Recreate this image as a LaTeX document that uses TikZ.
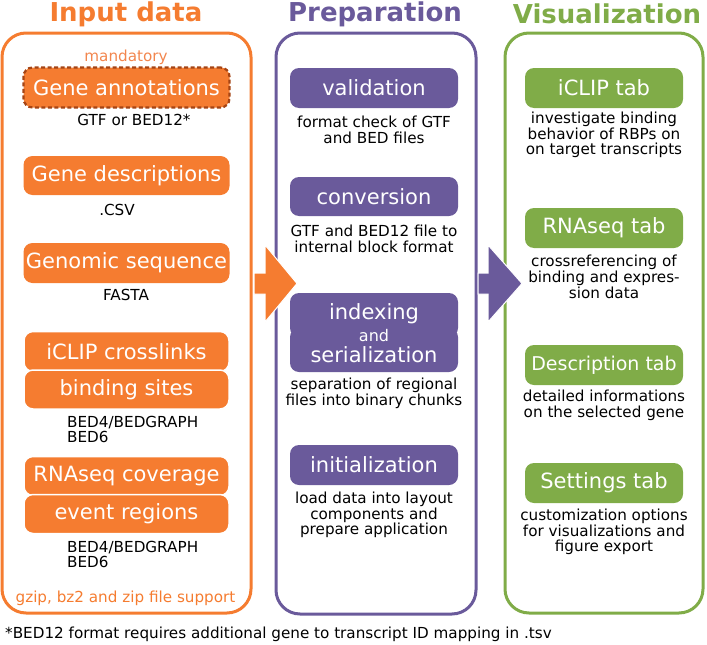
\documentclass[tikz,border=0pt]{standalone}
\usepackage{fontspec}
\setmainfont{DejaVu Sans}
\definecolor{ior}{RGB}{245,124,48}
\definecolor{ipu}{RGB}{106,90,155}
\definecolor{igr}{RGB}{128,172,72}
\definecolor{idash}{RGB}{165,68,20}
\definecolor{imand}{RGB}{242,134,78}
\newcommand{\bigtxt}{\fontsize{21}{22}\selectfont}
\newcommand{\smtxt}{\fontsize{15.2}{15.8}\selectfont}
\newcommand{\ttltxt}{\fontsize{26}{27}\selectfont\bfseries}
\tikzset{
  panel/.style={line width=3pt, rounded corners=24pt},
  boxbase/.style={rounded corners=9pt, text=white, font=\bigtxt, inner sep=0pt},
  obox/.style={boxbase, fill=ior},
  pbox/.style={boxbase, fill=ipu},
  gbox/.style={boxbase, fill=igr},
  note/.style={font=\smtxt, align=center, inner sep=0pt},
  ttl/.style={font=\ttltxt, inner sep=0pt},
}
\begin{document}
\begin{tikzpicture}[x=1pt,y=-1pt]
\useasboundingbox (0,0) rectangle (707,645);
% titles
\node[ttl, text=ior] (t1) at (126,14) {Input data};
\node[ttl, text=ipu] (t2) at (375,14) {Preparation};
\node[ttl, text=igr] (t3) at (607,14) {Visualization};
% panels
\draw[panel, ior] (2,33) rectangle (251,613);
\draw[panel, ipu] (276,33) rectangle (476,614);
\draw[panel, igr] (505,33) rectangle (703,613);
% ---------- input data ----------
\node[font=\smtxt, text=imand, inner sep=0pt] (mand) at (126,57) {mandatory};
\node[obox, minimum width=206pt, minimum height=40pt, draw=idash, line width=2.2pt, dash pattern=on 4pt off 2.5pt] (ga) at (126.5,87.5) {Gene annotations};
\node[note] (gan) at (134,120) {GTF or BED12*};
\node[obox, minimum width=206pt, minimum height=39pt] (gd) at (126.5,175.5) {Gene descriptions};
\node[note] (gdn) at (117,210) {.CSV};
\node[obox, minimum width=206pt, minimum height=40pt] (gs) at (126.5,263) {Genomic sequence};
\node[note] (gsn) at (126,295) {FASTA};
\node[obox, minimum width=205pt, minimum height=40pt, draw=white, line width=1.5pt] (ic) at (126.5,351.5) {iCLIP crosslinks};
\node[obox, minimum width=205pt, minimum height=39pt, draw=white, line width=1.5pt] (bs) at (126.5,389.5) {binding sites};
\node[note, align=left, anchor=west] (bsn) at (67,429.5) {BED4/BEDGRAPH\\BED6};
\node[obox, minimum width=205pt, minimum height=39pt, draw=white, line width=1.5pt] (rc) at (126.5,476) {RNAseq coverage};
\node[obox, minimum width=205pt, minimum height=39pt, draw=white, line width=1.5pt] (er) at (126.5,514) {event regions};
\node[note, align=left, anchor=west] (ern) at (67,554.5) {BED4/BEDGRAPH\\BED6};
\node[font=\smtxt, text=ior, inner sep=0pt] (gz) at (125.5,598) {gzip, bz2 and zip file support};
% ---------- preparation ----------
\node[pbox, minimum width=168pt, minimum height=40pt] (val) at (374,88) {validation};
\node[note] (valn) at (374,130) {format check of GTF\\and BED files};
\node[pbox, minimum width=168pt, minimum height=39pt] (con) at (374,196.5) {conversion};
\node[note] (conn) at (374,238.5) {GTF and BED12 file to\\internal block format};
\node[pbox, minimum width=168pt, minimum height=44pt] (idx) at (374,315) {};
\node[pbox, minimum width=168pt, minimum height=44pt] (ser) at (374,350) {};
\node[font=\bigtxt, text=white, inner sep=0pt] (idxt) at (374,314) {indexing};
\node[font=\fontsize{16}{16}\selectfont, text=white, inner sep=0pt] (andt) at (374,336) {and};
\node[font=\bigtxt, text=white, inner sep=0pt] (sert) at (374,355) {serialization};
\node[note] (sern) at (374,393.5) {separation of regional\\files into binary chunks};
\node[pbox, minimum width=168pt, minimum height=40pt] (ini) at (374,465) {initialization};
\node[note] (inin) at (374,515) {load data into layout\\components and\\prepare application};
% ---------- visualization ----------
\node[gbox, minimum width=158pt, minimum height=40pt] (ict) at (604,88) {iCLIP tab};
\node[note] (ictn) at (604,135) {investigate binding\\behavior of RBPs on\\on target transcripts};
\node[gbox, minimum width=158pt, minimum height=40pt] (rst) at (604,228) {RNAseq tab};
\node[note] (rstn) at (604,277) {crossreferencing of\\binding and expres-\\sion data};
\node[gbox, minimum width=158pt, minimum height=40pt, font=\fontsize{19}{20}\selectfont] (dst) at (604,365) {Description tab};
\node[note] (dstn) at (604,405.5) {detailed informations\\on the selected gene};
\node[gbox, minimum width=158pt, minimum height=40pt] (stt) at (604,483) {Settings tab};
\node[note] (sttn) at (604,532) {customization options\\for visualizations and\\figure export};
% ---------- arrows ----------
\filldraw[fill=ior, draw=white, line width=1pt] (254,273) -- (265,273) -- (265,245) -- (297,283.5) -- (265,322) -- (265,294) -- (254,294) -- cycle;
\filldraw[fill=ipu, draw=white, line width=1pt] (478,273) -- (488,273) -- (488,245) -- (522,283.5) -- (488,322) -- (488,294) -- (478,294) -- cycle;
% footnote
\node[font=\smtxt, anchor=west, inner sep=0pt] (fn) at (5,634) {*BED12 format requires additional gene to transcript ID mapping in .tsv};
\end{tikzpicture}
\end{document}
